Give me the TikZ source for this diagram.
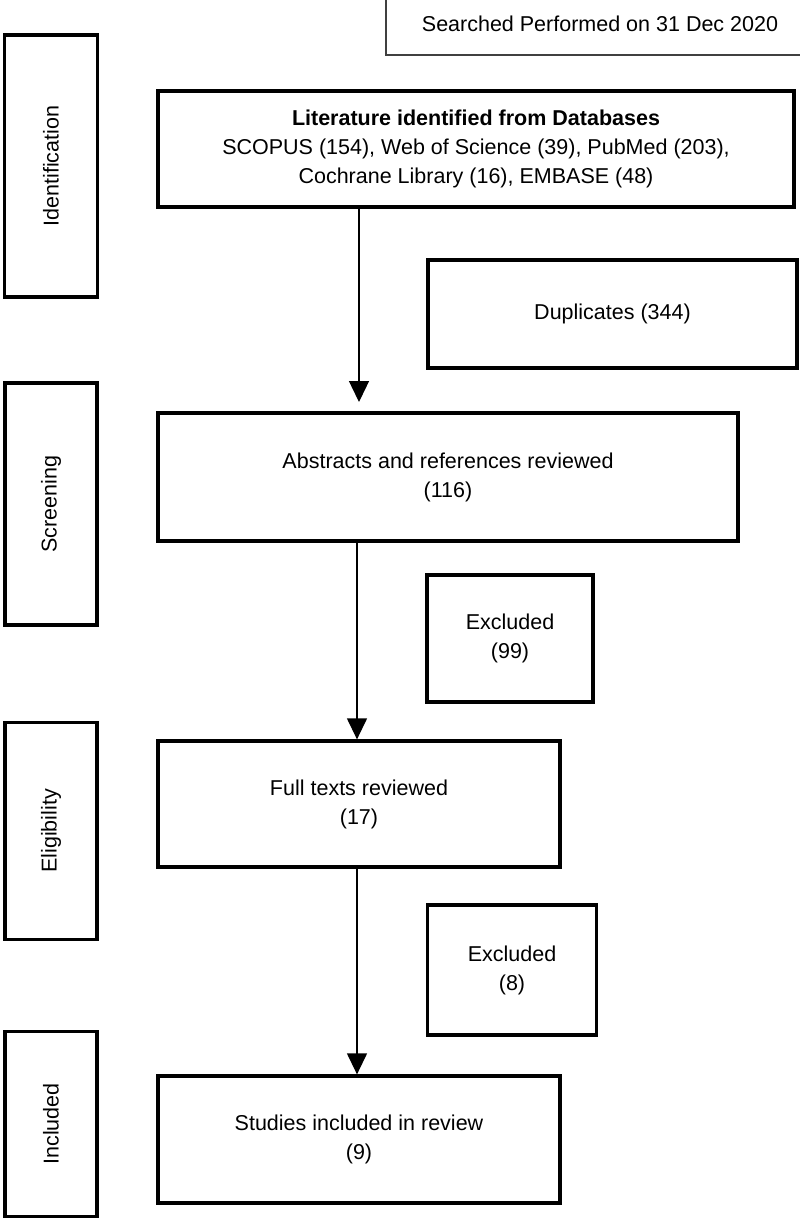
\documentclass[tikz,border=0pt]{standalone}
\usepackage{fontspec}
\setmainfont{Liberation Sans}
\usetikzlibrary{arrows.meta}
\begin{document}
\begin{tikzpicture}[x=1pt,y=-1pt,
  box/.style={draw=black, line width=3.3pt, inner sep=0pt, align=center,
    font=\fontsize{21.5}{29}\selectfont},
  sidebox/.style={box, rotate=90},
  topbox/.style={draw=black!75, line width=1.2pt, inner sep=0pt, align=center,
    font=\fontsize{21.5}{29}\selectfont},
  arr/.style={line width=1.3pt, -{Triangle[length=21pt,width=20pt]}}]
\useasboundingbox[fill=white] (0,0) rectangle (800,1221);
\begin{scope}
\clip (0,0) rectangle (800,1221);
\node[topbox, minimum width=428pt, minimum height=62pt] (top) at (600,24) {Searched Performed on 31 Dec 2020};
\end{scope}
% side stage boxes
\node[sidebox, minimum width=262pt, minimum height=93pt] (ident) at (51,166) {Identification};
\node[sidebox, minimum width=242pt, minimum height=92pt] (screen) at (51,504) {Screening};
\node[sidebox, minimum width=217pt, minimum height=92pt] (elig) at (51,831) {Eligibility};
\node[sidebox, minimum width=185pt, minimum height=92pt] (incl) at (51,1124) {Included};
% main column
\node[box, minimum width=636pt, minimum height=116pt] (b1) at (476,149)
  {\textbf{Literature identified from Databases}\\SCOPUS (154), Web of Science (39), PubMed (203),\\Cochrane Library (16), EMBASE (48)};
\node[box, minimum width=580pt, minimum height=128pt] (b2) at (448,477)
  {Abstracts and references reviewed\\(116)};
\node[box, minimum width=402pt, minimum height=126pt] (b3) at (359,804)
  {Full texts reviewed\\(17)};
\node[box, minimum width=402pt, minimum height=127pt] (b4) at (359,1139.5)
  {Studies included in review\\(9)};
% exclusion boxes
\node[box, minimum width=369pt, minimum height=108pt] (dup) at (612.5,314) {Duplicates (344)};
\node[box, minimum width=166pt, minimum height=127pt] (ex1) at (510,638.5) {Excluded\\(99)};
\node[box, minimum width=169pt, minimum height=130pt] (ex2) at (512,970) {Excluded\\(8)};
% arrows
\coordinate (a1) at (359,402);
\coordinate (a2) at (357,0);
\draw[arr] (b1.south -| a1) -- (a1);
\draw[arr] (b2.south -| a2) -- (b3.north -| a2);
\draw[arr] (b3.south -| a2) -- (b4.north -| a2);
\end{tikzpicture}
\end{document}
